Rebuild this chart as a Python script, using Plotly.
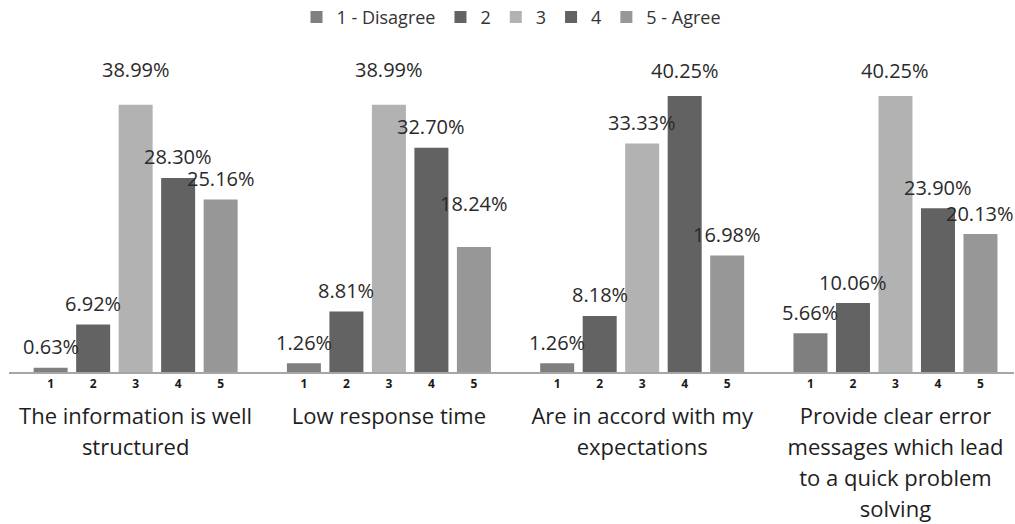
import plotly.graph_objects as go

# Survey statements (x groups) and answer scale (one trace per answer)
statements = [
    "The information is well<br>structured",
    "Low response time",
    "Are in accord with my<br>expectations",
    "Provide clear error<br>messages which lead<br>to a quick problem<br>solving",
]
levels = ["1 - Disagree", "2", "3", "4", "5 - Agree"]
level_ticks = ["1", "2", "3", "4", "5"]

# Share of answers (%) per level, listed across the four statements
pct_1 = [0.63, 1.26, 1.26, 5.66]
pct_2 = [6.92, 8.81, 8.18, 10.06]
pct_3 = [38.99, 38.99, 33.33, 40.25]
pct_4 = [28.30, 32.70, 40.25, 23.90]
pct_5 = [25.16, 18.24, 16.98, 20.13]
series = [pct_1, pct_2, pct_3, pct_4, pct_5]

colors = ["#7f7f7f", "#636363", "#b2b2b2", "#626262", "#979797"]
FONT = "Open Sans"
TEXT = "#2a2a2a"

BARGAP = 0.161
BARGROUPGAP = 0.2
slot = (1 - BARGAP) / len(levels)

# extra lift (px) for a few hand-placed value labels: (statement, level) -> px
label_lift = {(0, 2): 14, (1, 2): 14, (1, 4): 22, (2, 3): 5, (3, 2): 5}

groups = list(range(len(statements)))
fig = go.Figure()
for i, (name, vals) in enumerate(zip(levels, series)):
    fig.add_trace(go.Bar(
        x=groups, y=vals, name=name,
        marker=dict(color=colors[i], line=dict(width=0)),
        hoverinfo="skip",
    ))

annotations = []
for i, vals in enumerate(series):
    for g, v in enumerate(vals):
        annotations.append(dict(
            x=g + (i - 2) * slot, y=v, xref="x", yref="y",
            text=f"{v:.2f}%", showarrow=False,
            yanchor="middle", yshift=21 + label_lift.get((g, i), 0),
            font=dict(family=FONT, size=20, color=TEXT),
        ))

# small answer-scale numbers under each bar, drawn on an overlaid axis
tick_pos = [g + (i - 2) * slot for g in groups for i in range(len(levels))]
tick_txt = [level_ticks[i] for g in groups for i in range(len(levels))]


def wrap_lines(label, size=22):
    return "<br>".join(
        f"<span style='font-size:{size}px'>{ln}</span>" for ln in label.split("<br>")
    )


XRANGE = [-0.5, 3.468]
fig.update_layout(
    template="none",
    width=1015, height=524,
    margin=dict(l=9, r=1, t=55, b=152),
    paper_bgcolor="white", plot_bgcolor="white",
    barmode="group", bargap=BARGAP, bargroupgap=BARGROUPGAP,
    font=dict(family=FONT, color=TEXT),
    showlegend=True,
    legend=dict(
        orientation="h", x=0.50, xanchor="center",
        yref="container", y=0.967, yanchor="middle",
        font=dict(family=FONT, size=18, color="#333333"),
        itemwidth=30, traceorder="normal",
    ),
    xaxis=dict(
        range=XRANGE, tickvals=groups,
        ticktext=[wrap_lines(s) for s in statements],
        tickangle=0, ticks="", showgrid=False, zeroline=False,
        showline=True, linecolor="#a6a6a6", linewidth=1.5,
        tickfont=dict(family=FONT, size=24, color="#1e1e1e"),
        ticklabelstandoff=21, automargin=False,
    ),
    xaxis2=dict(
        overlaying="x", anchor="y", side="bottom", range=XRANGE,
        tickvals=tick_pos, ticktext=tick_txt, tickangle=0,
        ticks="", showgrid=False, zeroline=False, showline=False,
        tickfont=dict(family=FONT, size=12, color="#1a1a1a", weight="bold"),
        ticklabelstandoff=3, automargin=False,
    ),
    yaxis=dict(range=[0, 46.24], visible=False, automargin=False),
    annotations=annotations,
)
# invisible helper so the overlaid axis is drawn
fig.add_trace(go.Scatter(x=[XRANGE[0]], y=[0], xaxis="x2", mode="markers",
                         marker=dict(opacity=0), showlegend=False, hoverinfo="skip"))

fig.write_html("out.html")
